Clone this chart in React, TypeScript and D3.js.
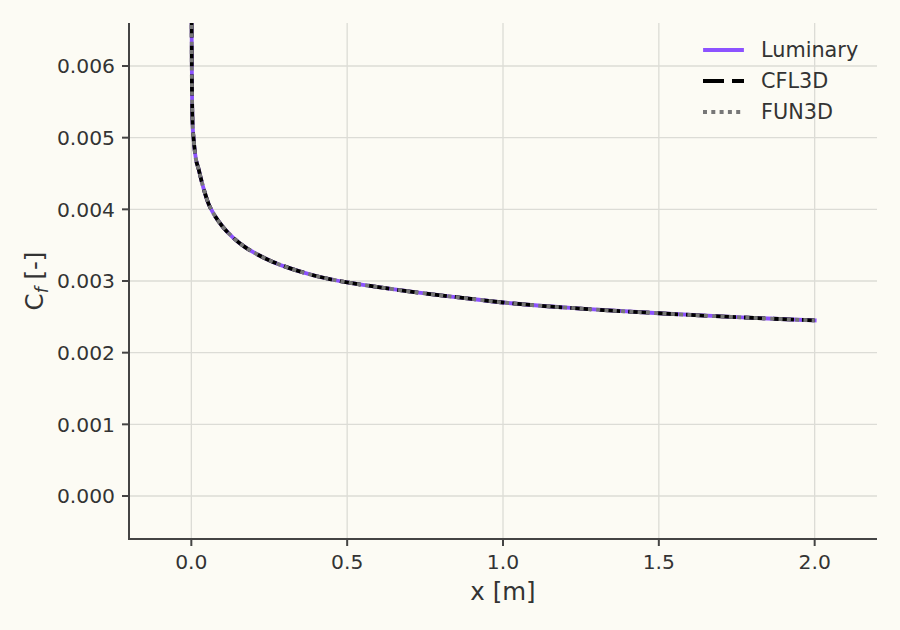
import React from 'react';
import * as d3 from 'd3';

// skin friction along the plate
const xPos = [0.0005, 0.001, 0.002, 0.004, 0.007, 0.012, 0.024, 0.038, 0.055, 0.074, 0.1, 0.133, 0.17, 0.208, 0.26, 0.315, 0.4, 0.5, 0.6, 0.743, 0.87, 1.0, 1.25, 1.5, 1.75, 2.0];
const cfLuminary = [0.0075, 0.0066, 0.0057, 0.0052, 0.005, 0.00478, 0.00455, 0.00431, 0.00408, 0.00392, 0.00376, 0.00361, 0.00348, 0.00338, 0.00327, 0.00318, 0.00307, 0.00298, 0.002915, 0.00283, 0.002765, 0.0027, 0.002615, 0.00255, 0.002495, 0.00245];
const cfCFL3D = [0.0075, 0.0066, 0.0057, 0.0052, 0.005, 0.00478, 0.00455, 0.00431, 0.00408, 0.00392, 0.00376, 0.00361, 0.00348, 0.00338, 0.00327, 0.00318, 0.00307, 0.00298, 0.002915, 0.00283, 0.002765, 0.0027, 0.002615, 0.00255, 0.002495, 0.00245];
const cfFUN3D = [0.0075, 0.0066, 0.0057, 0.0052, 0.005, 0.00478, 0.00455, 0.00431, 0.00408, 0.00392, 0.00376, 0.00361, 0.00348, 0.00338, 0.00327, 0.00318, 0.00307, 0.00298, 0.002915, 0.00283, 0.002765, 0.0027, 0.002615, 0.00255, 0.002495, 0.00245];

const xTicks = [0, 0.5, 1.0, 1.5, 2.0];
const yTicks = [0, 0.001, 0.002, 0.003, 0.004, 0.005, 0.006];

const W = 900;
const H = 630;
const L = 129, R = 877, T = 23, B = 539;
const BG = '#fcfbf4';
const TXT = '#333333';
const SPINE = '#444444';
const FONT = 'DejaVu Sans, sans-serif';

const series = [
  { name: 'Luminary', values: cfLuminary, color: '#8c52ff', dash: null as string | null, cap: 'square' as const },
  { name: 'CFL3D', values: cfCFL3D, color: '#000000', dash: '21,8', cap: 'butt' as const },
  { name: 'FUN3D', values: cfFUN3D, color: '#777777', dash: '4,4.3', cap: 'butt' as const },
];

export default function App() {
  const x = d3.scaleLinear().domain([-0.2, 2.2]).range([L, R]);
  const y = d3.scaleLinear().domain([-0.0006, 0.0066]).range([B, T]);

  const line = d3.line<[number, number]>()
    .x((d) => x(d[0]))
    .y((d) => y(d[1]))
    .curve(d3.curveMonotoneX);

  return (
    <svg width={W} height={H} style={{ display: 'block' }} fontFamily={FONT}>
      <style>{`body{margin:0}`}</style>
      <defs>
        <clipPath id="plot">
          <rect x={L} y={T} width={R - L} height={B - T} />
        </clipPath>
      </defs>
      <rect width={W} height={H} fill={BG} />

      {/* grid */}
      {xTicks.map((t) => (
        <line key={'gx' + t} x1={x(t)} x2={x(t)} y1={T} y2={B} stroke="#dcdcd6" strokeWidth={1.3} />
      ))}
      {yTicks.map((t) => (
        <line key={'gy' + t} x1={L} x2={R} y1={y(t)} y2={y(t)} stroke="#dcdcd6" strokeWidth={1.3} />
      ))}

      {/* curves */}
      <g clipPath="url(#plot)">
        {series.map((s) => (
          <path
            key={s.name}
            d={line(xPos.map((v, i) => [v, s.values[i]] as [number, number])) ?? ''}
            fill="none"
            stroke={s.color}
            strokeWidth={3.8}
            strokeDasharray={s.dash ?? undefined}
            strokeLinecap={s.cap}
          />
        ))}
      </g>

      {/* spines */}
      <line x1={L} x2={L} y1={T} y2={B + 1} stroke={SPINE} strokeWidth={2} />
      <line x1={L - 1} x2={R} y1={B} y2={B} stroke={SPINE} strokeWidth={2} />

      {/* x axis */}
      {xTicks.map((t) => (
        <g key={'xt' + t}>
          <line x1={x(t)} x2={x(t)} y1={B} y2={B + 7} stroke={SPINE} strokeWidth={2} />
          <text x={x(t)} y={569} textAnchor="middle" fontSize={20.3} fill={TXT}>
            {d3.format('.1f')(t)}
          </text>
        </g>
      ))}
      <text x={(L + R) / 2} y={600} textAnchor="middle" fontSize={24.5} fill={TXT}>x [m]</text>

      {/* y axis */}
      {yTicks.map((t) => (
        <g key={'yt' + t}>
          <line x1={L - 7} x2={L} y1={y(t)} y2={y(t)} stroke={SPINE} strokeWidth={2} />
          <text x={115} y={y(t)} dy="0.36em" textAnchor="end" fontSize={20.3} fill={TXT}>
            {d3.format('.3f')(t)}
          </text>
        </g>
      ))}
      <text transform={`translate(43,${(T + B) / 2}) rotate(-90)`} textAnchor="middle" fontSize={24.5} fill={TXT}>
        C<tspan fontStyle="italic" fontSize={17} dy={5}>f</tspan>
        <tspan dy={-5}> [-]</tspan>
      </text>

      {/* legend */}
      {series.map((s, i) => {
        const ly = 50 + i * 31;
        return (
          <g key={'lg' + s.name}>
            <line
              x1={s.dash ? 703 : 705}
              x2={s.dash ? 744 : 742}
              y1={ly}
              y2={ly}
              stroke={s.color}
              strokeWidth={3.8}
              strokeDasharray={s.dash ?? undefined}
              strokeLinecap={s.cap}
            />
            <text x={761} y={ly} dy="0.36em" fontSize={20.8} fill={TXT}>{s.name}</text>
          </g>
        );
      })}
    </svg>
  );
}
